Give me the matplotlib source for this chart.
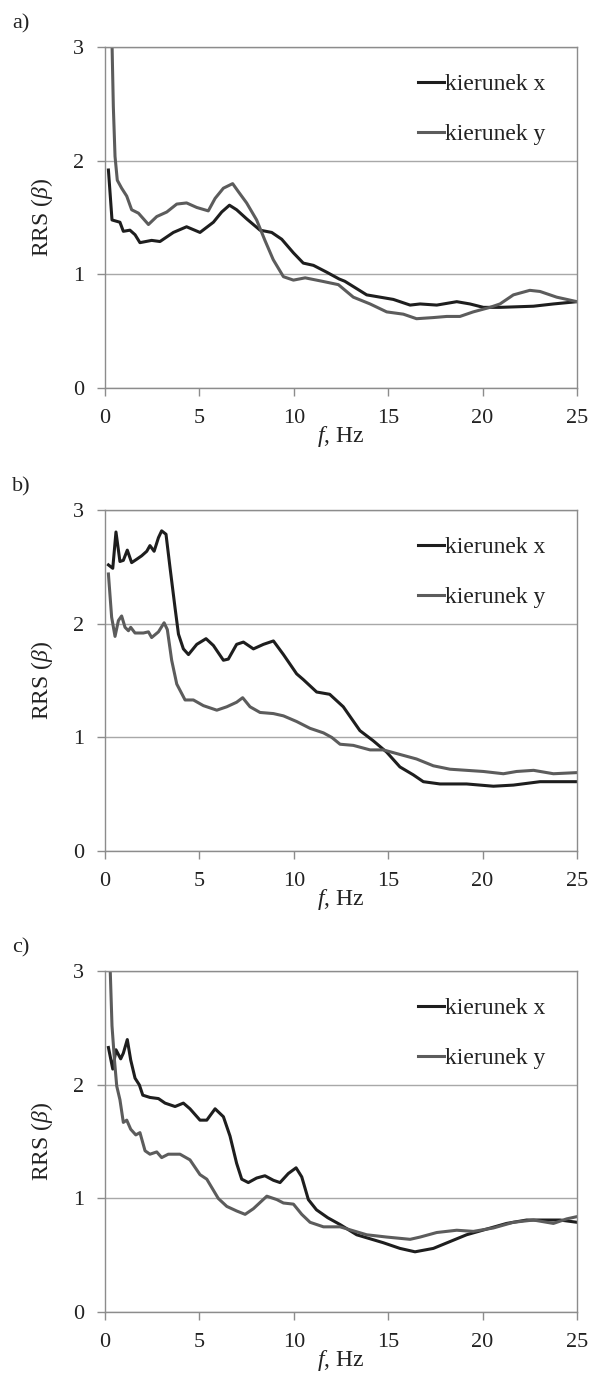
import matplotlib
matplotlib.use("Agg")
import matplotlib.pyplot as plt

plt.rcParams['font.family'] = ['Liberation Serif', 'DejaVu Serif']
plt.rcParams['mathtext.fontset'] = 'custom'
plt.rcParams['mathtext.rm'] = 'Liberation Serif'
plt.rcParams['mathtext.it'] = 'Liberation Serif:italic'

# --- widma RRS: a), b), c) --- #
a_fx = [0.18, 0.37, 0.79, 0.97, 1.32, 1.59, 1.85, 2.47, 2.91, 3.62, 4.32, 5.03, 5.74, 6.18,
        6.59, 6.97, 7.5, 8.21, 8.83, 9.36, 9.98, 10.5, 11.04, 11.74, 12.4, 12.7, 13.86,
        15.27, 16.16, 16.69, 17.57, 18.63, 19.33, 20.04, 20.92, 22.69, 23.75, 25.0]
a_x = [1.92, 1.48, 1.46, 1.38, 1.39, 1.35, 1.28, 1.30, 1.29, 1.37, 1.42, 1.37, 1.46, 1.55,
       1.61, 1.57, 1.49, 1.39, 1.37, 1.31, 1.19, 1.10, 1.08, 1.02, 0.96, 0.94, 0.82,
       0.78, 0.73, 0.74, 0.73, 0.76, 0.74, 0.71, 0.71, 0.72, 0.74, 0.76]
a_fy = [0.3, 0.44, 0.53, 0.65, 0.88, 1.15, 1.41, 1.77, 2.3, 2.74, 3.27, 3.8, 4.32, 4.86, 5.47,
        5.83, 6.27, 6.76, 7.06, 7.5, 8.03, 8.47, 8.91, 9.45, 9.98, 10.6, 11.5, 12.36, 13.15,
        14.04, 14.92, 15.8, 16.5, 17.39, 18.1, 18.8, 19.5, 20.39, 20.92, 21.63, 22.5, 23.04,
        23.92, 25.0]
a_y = [3.6, 2.48, 2.04, 1.83, 1.76, 1.69, 1.57, 1.54, 1.44, 1.51, 1.55, 1.62, 1.63, 1.59, 1.56,
       1.67, 1.76, 1.80, 1.73, 1.63, 1.48, 1.30, 1.13, 0.98, 0.95, 0.97, 0.94, 0.91, 0.80,
       0.74, 0.67, 0.65, 0.61, 0.62, 0.63, 0.63, 0.67, 0.71, 0.74, 0.82, 0.86, 0.85,
       0.80, 0.76]

b_fx = [0.18, 0.41, 0.58, 0.79, 0.97, 1.18, 1.41, 1.68, 1.94, 2.21, 2.38, 2.6, 2.83, 3.0,
        3.23, 3.44, 3.71, 3.89, 4.15, 4.42, 4.86, 5.35, 5.74, 6.27, 6.53, 6.97, 7.33, 7.86,
        8.39, 8.92, 9.45, 10.15, 10.5, 11.21, 11.9, 12.62, 13.5, 14.21, 14.92, 15.62,
        16.33, 16.86, 17.74, 19.15, 20.57, 21.63, 23.04, 25.0]
b_x = [2.52, 2.49, 2.81, 2.55, 2.56, 2.65, 2.54, 2.57, 2.60, 2.64, 2.69, 2.64, 2.76, 2.82,
       2.79, 2.50, 2.14, 1.91, 1.78, 1.73, 1.82, 1.87, 1.81, 1.68, 1.69, 1.82, 1.84, 1.78,
       1.82, 1.85, 1.73, 1.56, 1.51, 1.40, 1.38, 1.27, 1.06, 0.97, 0.87, 0.74,
       0.67, 0.61, 0.59, 0.59, 0.57, 0.58, 0.61, 0.61]
b_fy = [0.18, 0.35, 0.53, 0.71, 0.88, 1.06, 1.24, 1.36, 1.59, 2.03, 2.3, 2.47, 2.83, 3.13,
        3.3, 3.53, 3.8, 4.24, 4.68, 5.21, 5.92, 6.45, 6.97, 7.29, 7.68, 8.21, 8.92, 9.45,
        10.15, 10.86, 11.57, 12.01, 12.45, 13.15, 14.04, 14.74, 15.62, 16.5, 17.39, 18.27,
        19.15, 20.04, 21.1, 21.8, 22.7, 23.75, 25.0]
b_y = [2.44, 2.06, 1.89, 2.03, 2.07, 1.97, 1.94, 1.97, 1.92, 1.92, 1.93, 1.88, 1.93, 2.01,
       1.95, 1.68, 1.47, 1.33, 1.33, 1.28, 1.24, 1.27, 1.31, 1.35, 1.27, 1.22, 1.21, 1.19,
       1.14, 1.08, 1.04, 1.00, 0.94, 0.93, 0.89, 0.89, 0.85, 0.81, 0.75, 0.72,
       0.71, 0.70, 0.68, 0.70, 0.71, 0.68, 0.69]

c_fx = [0.18, 0.41, 0.58, 0.83, 0.97, 1.18, 1.36, 1.59, 1.82, 2.0, 2.38, 2.83, 3.18, 3.71,
        4.15, 4.5, 5.03, 5.39, 5.83, 6.27, 6.62, 6.97, 7.24, 7.59, 8.03, 8.47, 8.92, 9.27,
        9.71, 10.12, 10.42, 10.77, 11.2, 11.8, 12.45, 13.33, 14.74, 15.62, 16.42, 17.39,
        18.27, 19.15, 20.21, 21.27, 22.33, 23.22, 24.1, 25.0]
c_x = [2.33, 2.14, 2.31, 2.23, 2.28, 2.40, 2.22, 2.06, 2.00, 1.91, 1.89, 1.88, 1.84, 1.81,
       1.84, 1.79, 1.69, 1.69, 1.79, 1.72, 1.55, 1.31, 1.17, 1.14, 1.18, 1.20, 1.16, 1.14,
       1.22, 1.27, 1.19, 0.99, 0.90, 0.83, 0.77, 0.68, 0.61, 0.56, 0.53, 0.56,
       0.62, 0.68, 0.73, 0.78, 0.81, 0.81, 0.81, 0.79]
c_fy = [0.2, 0.37, 0.5, 0.62, 0.79, 0.97, 1.15, 1.36, 1.63, 1.85, 2.12, 2.38, 2.74, 3.0,
        3.35, 3.97, 4.5, 5.03, 5.39, 6.0, 6.45, 6.97, 7.42, 7.86, 8.57, 9.1, 9.45, 9.98,
        10.42, 10.86, 11.57, 12.45, 13.86, 14.92, 16.16, 16.69, 17.57, 18.63, 19.51,
        20.57, 21.63, 22.69, 23.75, 24.45, 25.0]
c_y = [3.4, 2.52, 2.22, 1.99, 1.87, 1.67, 1.69, 1.61, 1.56, 1.58, 1.42, 1.39, 1.41, 1.36,
       1.39, 1.39, 1.34, 1.21, 1.17, 1.00, 0.93, 0.89, 0.86, 0.91, 1.02, 0.99, 0.96, 0.95,
       0.86, 0.79, 0.75, 0.75, 0.68, 0.66, 0.64, 0.66, 0.70, 0.72, 0.71,
       0.74, 0.79, 0.81, 0.78, 0.82, 0.84]

panels = [("a)", a_fx, a_x, a_fy, a_y, 0.7203),
          ("b)", b_fx, b_x, b_fy, b_y, 0.3865),
          ("c)", c_fx, c_x, c_fy, c_y, 0.0541)]

DARK  = "#1e1e1e"
LIGHT = "#5c5c5c"
GRID  = "#a8a8a8"
FS    = 16

fig = plt.figure(figsize=(5.9, 13.87), dpi=100)

for name, fx, vx, fy, vy, bottom in panels:
    ax = fig.add_axes([0.178, bottom, 0.800, 0.2455])
    ax.plot(fx, vx, color=DARK, lw=2.2, label="kierunek x", solid_joinstyle="round")
    ax.plot(fy, vy, color=LIGHT, lw=2.2, label="kierunek y", solid_joinstyle="round")
    ax.set_xlim(0, 25)
    ax.set_ylim(0, 3)
    ax.set_xticks([0, 5, 10, 15, 20, 25])
    ax.set_yticks([0, 1, 2, 3])
    ax.yaxis.grid(True, color=GRID, lw=1.0)
    ax.set_axisbelow(True)
    for s in ax.spines.values():
        s.set_color("#8c8c8c")
        s.set_linewidth(1.0)
    ax.tick_params(direction="out", length=6, width=1.0, color="#8c8c8c",
                   labelsize=FS, pad=9, labelcolor="#222222")
    ax.set_ylabel("RRS ($\\beta$)", fontsize=FS + 1, color="#222222")
    ax.yaxis.set_label_coords(-0.106, 0.5)
    ax.set_xlabel("$f$, Hz", fontsize=FS + 1, color="#222222")
    ax.xaxis.set_label_coords(0.5, -0.105)
    ax.legend(loc="center right", bbox_to_anchor=(0.958, 0.818), frameon=False,
              fontsize=FS + 1, handlelength=1.1, handletextpad=0.05, labelspacing=1.2,
              borderpad=0, labelcolor="#222222")
    fig.text(0.020, bottom + 0.2455 + 0.017, name, fontsize=FS, color="#222222",
             va="center", ha="left")

fig.savefig("out.png", dpi=100, facecolor="white")
